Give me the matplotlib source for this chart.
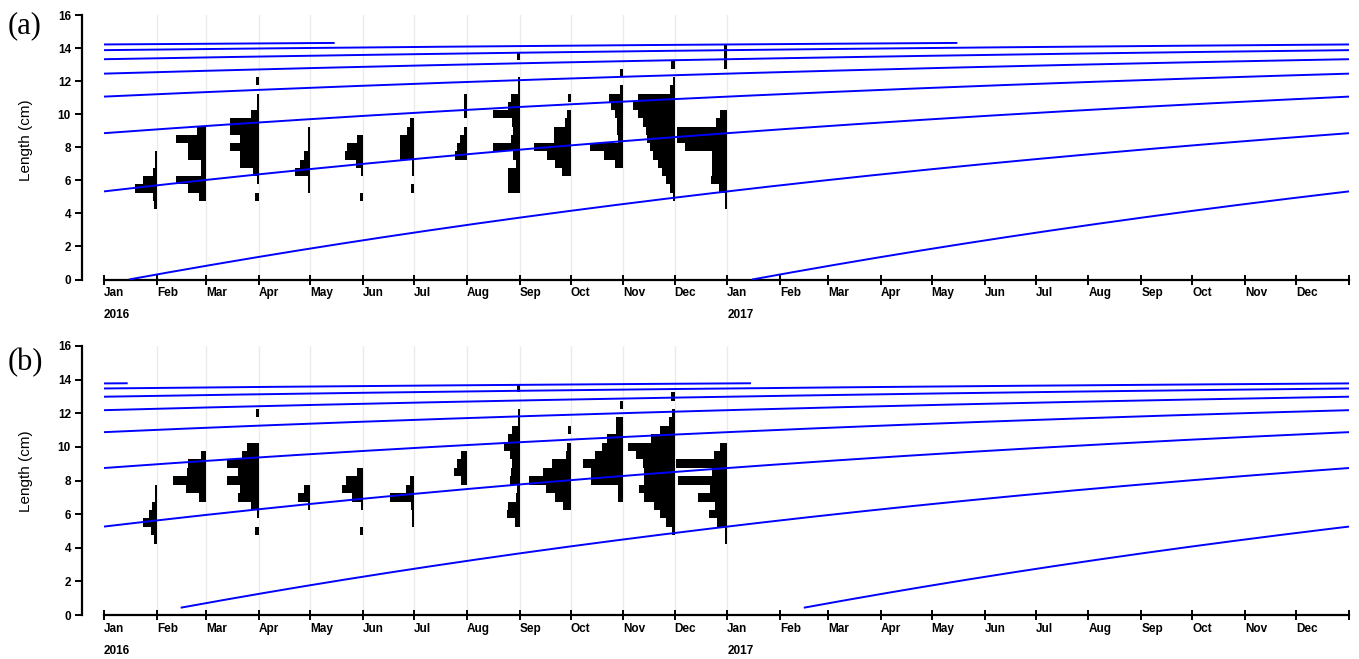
import datetime as dt
import numpy as np
import matplotlib
matplotlib.use("Agg")
import matplotlib.pyplot as plt

# ---------------- data ----------------
length_mids = [4.5, 5.0, 5.5, 6.0, 6.5, 7.0, 7.5, 8.0, 8.5, 9.0,
               9.5, 10.0, 10.5, 11.0, 11.5, 12.0, 12.5, 13.0, 13.5, 14.0]
sample_dates = ["2016-02-01", "2016-03-01", "2016-04-01", "2016-05-01",
                "2016-06-01", "2016-07-01", "2016-08-01", "2016-09-01",
                "2016-10-01", "2016-11-01", "2016-12-01", "2017-01-01"]

# relative frequencies per length class (rows = samples, cols = length_mids)
freq_a = [
    [3, 4, 22, 14, 4, 2, 2, 0, 0, 0, 0, 0, 0, 0, 0, 0, 0, 0, 0, 0],
    [0, 7, 18, 30, 5, 5, 18, 18, 30, 9, 0, 0, 0, 0, 0, 0, 0, 0, 0, 0],
    [0, 4, 0, 2, 6, 19, 19, 29, 19, 29, 29, 8, 2, 2, 0, 3, 0, 0, 0, 0],
    [0, 0, 2, 2, 15, 10, 6, 2, 2, 2, 0, 0, 0, 0, 0, 0, 0, 0, 0, 0],
    [0, 3, 0, 0, 2, 7, 18, 16, 6, 0, 0, 0, 0, 0, 0, 0, 0, 0, 0, 0],
    [0, 0, 3, 0, 2, 2, 14, 14, 14, 7, 4, 0, 0, 0, 0, 0, 0, 0, 0, 0],
    [0, 0, 0, 0, 0, 0, 12, 10, 7, 3, 0, 2.5, 2.5, 2.5, 0, 0, 0, 0, 0, 0],
    [0, 0, 12, 12, 12, 3.5, 7, 27, 9, 7, 8, 27, 12, 9, 2, 2, 0, 0, 3, 0],
    [0, 0, 0, 0, 9, 16, 24, 37, 17, 17, 6, 3.5, 0, 2.5, 0, 0, 0, 0, 0, 0],
    [0, 0, 0, 0, 0, 8, 19, 33, 5, 6, 6, 8, 12, 14, 3, 0, 3, 0, 0, 0],
    [0, 2, 5, 9, 13, 17, 22, 25, 28, 29, 32, 37, 42, 37, 5, 2, 0, 4, 0, 0],
    [2, 2, 8, 16, 15, 15, 15, 42, 50, 50, 11, 7, 0, 0, 0, 0, 0, 3, 3, 3],
]
freq_b = [
    [3, 6, 14, 8, 5, 2, 2, 0, 0, 0, 0, 0, 0, 0, 0, 0, 0, 0, 0, 0],
    [0, 0, 0, 0, 0, 7, 20, 33, 19, 18, 5, 0, 0, 0, 0, 0, 0, 0, 0, 0],
    [0, 4, 0, 2, 8, 21, 19, 32, 21, 32, 17, 12, 0, 0, 0, 3, 0, 0, 0, 0],
    [0, 0, 0, 0, 2, 12, 6, 0, 0, 0, 0, 0, 0, 0, 0, 0, 0, 0, 0, 0],
    [0, 3, 0, 0, 2, 11, 21, 17, 6, 0, 0, 0, 0, 0, 0, 0, 0, 0, 0, 0],
    [0, 0, 2, 2, 3, 24, 8, 4, 0, 0, 0, 0, 0, 0, 0, 0, 0, 0, 0, 0],
    [0, 0, 0, 0, 0, 0, 0, 6, 13, 10, 6, 0, 0, 0, 0, 0, 0, 0, 0, 0],
    [0, 0, 5, 13, 12, 4, 3, 10, 9, 8, 10, 16, 12, 8, 2, 2, 0, 0, 3, 0],
    [0, 0, 0, 0, 8, 16, 25, 42, 28, 19, 5, 4, 0, 2.5, 0, 0, 0, 0, 0, 0],
    [0, 0, 0, 0, 0, 5, 5, 32, 32, 40, 28, 21, 16, 7, 7, 0, 3, 0, 0, 0],
    [0, 3, 9, 15, 21, 31, 36, 31, 31, 32, 39, 47, 24, 15, 6, 3, 0, 3.5, 0, 0],
    [2, 2, 10, 18, 12, 29, 17, 49, 15, 51, 13, 7, 0, 0, 0, 0, 0, 0, 0, 0],
]

# von Bertalanffy growth parameters
vbgf_a = {"Linf": 14.8, "K": 0.465, "t_anchor": 0.04, "age_start": 0.0, "age_max": 7.33}
vbgf_b = {"Linf": 14.25, "K": 0.49, "t_anchor": 0.06, "age_start": 0.063, "age_max": 6.978}

month_labels = ["Jan", "Feb", "Mar", "Apr", "May", "Jun",
                "Jul", "Aug", "Sep", "Oct", "Nov", "Dec"]
years = [2016, 2017]
y_ticks = [0, 2, 4, 6, 8, 10, 12, 14, 16]
panel_labels = ["(a)", "(b)"]

# ---------------- helpers ----------------
ORIGIN = dt.date(2016, 1, 1)


def days(d):
    return (d - ORIGIN).days


def dec_year_to_x(t):
    return np.interp(t, [2016, 2017, 2018],
                     [days(dt.date(2016, 1, 1)), days(dt.date(2017, 1, 1)),
                      days(dt.date(2018, 1, 1))])


W, H = 1359, 659
fig = plt.figure(figsize=(W / 100, H / 100), dpi=100)

PX_PER_DAY = (1349 - 104) / 731.0
x_left = -(104 - 82) / PX_PER_DAY
x_right = 731 + (1354 - 1349) / PX_PER_DAY
HIST_SCALE = 1.0 / PX_PER_DAY   # days per frequency unit

panels = [
    dict(freq=freq_a, vb=vbgf_a, y0=279.5, y16=15.0, label=panel_labels[0],
         ylab_c=140, plab_c=26),
    dict(freq=freq_b, vb=vbgf_b, y0=615.0, y16=346.0, label=panel_labels[1],
         ylab_c=471, plab_c=363),
]

tick_dates = [dt.date(y, m, 1) for y in years for m in range(1, 13)] + [dt.date(2018, 1, 1)]
tick_x = [days(d) for d in tick_dates]
tick_lab = [month_labels[d.month - 1] if d.year < 2018 else "" for d in tick_dates]
sample_x = [days(dt.date.fromisoformat(s)) for s in sample_dates]

font_tick = dict(family="Liberation Sans", size=8.5, weight="bold")

for p in panels:
    left = 82 / W
    width = (1354 - 82) / W
    bottom = (H - p["y0"]) / H
    height = (p["y0"] - p["y16"]) / H
    ax = fig.add_axes([left, bottom, width, height])
    ax.set_xlim(x_left, x_right)
    ax.set_ylim(0, 16)

    # sample date guide lines
    for sx in sample_x:
        ax.plot([sx, sx], [0, 16], color="#ebebeb", lw=1.0, zorder=1)

    # length-frequency histograms (bars extend to the left of the sample date)
    mids = np.array(length_mids)
    for sx, row in zip(sample_x, p["freq"]):
        row = np.array(row, dtype=float)
        m = row > 0
        ax.barh(mids[m], -row[m] * HIST_SCALE, left=sx, height=0.5,
                color="black", linewidth=0, zorder=2)

    # growth curves
    vb = p["vb"]
    for byear in range(2006, 2019):
        tb = byear + vb["t_anchor"]
        t0 = max(2016.0, tb + vb["age_start"])
        t1 = min(2018.0, tb + vb["age_max"])
        if t1 <= t0:
            continue
        t = np.linspace(t0, t1, 400)
        L = vb["Linf"] * (1 - np.exp(-vb["K"] * (t - tb)))
        ax.plot(dec_year_to_x(t), L, color="#0000ff", lw=1.4, zorder=3,
                solid_capstyle="butt")

    # axes styling
    for s in ("top", "right"):
        ax.spines[s].set_visible(False)
    ax.spines["left"].set_bounds(0, 16)
    ax.spines["bottom"].set_bounds(tick_x[0], tick_x[-1])
    ax.spines["left"].set_linewidth(1.6)
    ax.spines["bottom"].set_linewidth(1.6)
    ax.set_yticks(y_ticks)
    ax.set_yticklabels([str(v) for v in y_ticks], fontdict=font_tick)
    ax.tick_params(axis="y", direction="out", length=5, width=1.4, pad=3)
    ax.set_xticks(tick_x)
    ax.set_xticklabels(tick_lab, fontdict=font_tick, ha="left")
    ax.tick_params(axis="x", direction="inout", length=7, width=1.4, pad=2)
    for yr in years:
        ax.annotate(str(yr), xy=(days(dt.date(yr, 1, 1)), 0), xycoords="data",
                    xytext=(0, -21.5), textcoords="offset points",
                    ha="left", va="top", **font_tick)

    fig.text(26 / W, 1 - p["ylab_c"] / H, "Length (cm)",
             rotation=90, ha="center", va="center",
             family="Liberation Sans", size=11)
    fig.text(8 / W, 1 - p["plab_c"] / H, p["label"], ha="left", va="center",
             family="Liberation Serif", size=22)

fig.savefig("out.png", dpi=100)
